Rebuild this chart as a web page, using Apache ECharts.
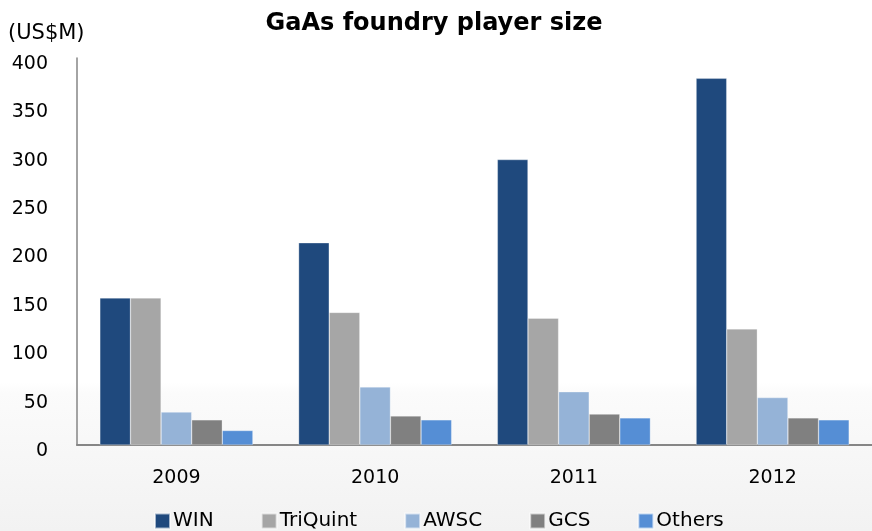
<!DOCTYPE html>
<html>
<head>
<meta charset="utf-8">
<script src="https://cdn.jsdelivr.net/npm/echarts@6/dist/echarts.min.js"></script>
<style>
  html, body { margin: 0; padding: 0; }
  #chart { width: 872px; height: 531px; }
</style>
</head>
<body>
<div id="chart"></div>
<script>
var years = ['2009', '2010', '2011', '2012'];
var win = [152, 209, 295, 379];
var triquint = [152, 137, 131, 120];
var awsc = [34, 60, 55, 49];
var gcs = [26, 30, 32, 28];
var others = [15, 26, 28, 26];

var font = 'DejaVu Sans, sans-serif';
var myChart = echarts.init(document.getElementById('chart'));

function bar(name, data, color) {
  return {
    name: name,
    type: 'bar',
    data: data,
    barGap: '0%',
    barCategoryGap: '23%',
    itemStyle: { color: color, borderColor: 'rgba(255,255,255,0.6)', borderWidth: 0.5 }
  };
}

var option = {
  backgroundColor: {
    type: 'linear', x: 0, y: 0, x2: 0, y2: 1,
    colorStops: [
      { offset: 0, color: '#ffffff' },
      { offset: 0.72, color: '#ffffff' },
      { offset: 0.74, color: '#fbfbfb' },
      { offset: 1, color: '#f2f2f2' }
    ]
  },
  animation: false,
  title: {
    text: 'GaAs foundry player size',
    left: 429,
    textAlign: 'center',
    top: 7,
    textStyle: { fontFamily: font, fontSize: 24, fontWeight: 'bold', color: '#000' }
  },
  graphic: [{
    type: 'text',
    left: 8,
    top: 23,
    style: { text: '(US$M)', font: '21px ' + font, fill: '#000' }
  }],
  legend: {
    bottom: 0,
    left: 154,
    padding: 0,
    itemWidth: 15,
    itemHeight: 15,
    itemGap: 47,
    icon: 'rect',
    textStyle: { fontFamily: font, fontSize: 20, color: '#000', padding: [0, 0, 0, -2] },
    data: ['WIN', 'TriQuint', 'AWSC', 'GCS', 'Others']
  },
  grid: { left: 77, right: 0, top: 58, bottom: 86, containLabel: false },
  xAxis: {
    type: 'category',
    data: years,
    axisLine: { lineStyle: { color: '#868686', width: 2 } },
    axisTick: { show: false },
    axisLabel: { fontFamily: font, fontSize: 19, color: '#000', margin: 24 }
  },
  yAxis: {
    type: 'value',
    min: 0,
    max: 400,
    interval: 50,
    axisLine: { show: true, lineStyle: { color: '#868686', width: 1.5 } },
    axisTick: { show: false },
    splitLine: { show: false },
    axisLabel: { fontFamily: font, fontSize: 19, color: '#000', margin: 29, verticalAlign: 'top', lineHeight: 12 }
  },
  series: [
    bar('WIN', win, '#1f497d'),
    bar('TriQuint', triquint, '#a6a6a6'),
    bar('AWSC', awsc, '#95b3d7'),
    bar('GCS', gcs, '#808080'),
    bar('Others', others, '#558ed5')
  ]
};
myChart.setOption(option);
</script>
</body>
</html>
